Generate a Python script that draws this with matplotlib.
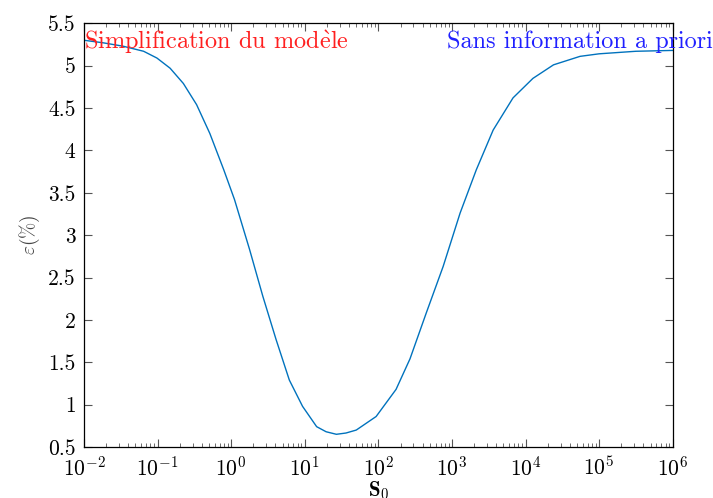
import numpy as np
import matplotlib
matplotlib.use("Agg")
import matplotlib.pyplot as plt
from matplotlib.ticker import LogLocator

# Values
s0 = [1.0e-2, 1.82e-2, 3.39e-2, 6.46e-2, 9.8e-2, 0.148, 0.224,
      0.339, 0.513, 0.794, 1.11, 1.78, 2.69, 4.07, 6.17,
      9.33, 14.5, 19.5, 26.9, 36.3, 50.1, 93.3, 174, 269, 447,
      759, 1290, 2140, 3630, 6760, 12600, 24000, 55000, 1.0e5,
      3.16e5, 1.0e6]
eps = [5.30, 5.27, 5.23, 5.17, 5.09, 4.97, 4.79,
       4.54, 4.20, 3.77, 3.42, 2.83, 2.28, 1.77, 1.29,
       0.98, 0.74, 0.68, 0.65, 0.665, 0.70, 0.86, 1.18, 1.54, 2.08,
       2.63, 3.26, 3.77, 4.24, 4.62, 4.85, 5.01, 5.11, 5.14,
       5.17, 5.18]

x_limits = (1e-2, 1e6)
y_limits = (0.5, 5.5)
y_ticks = [0.5, 1, 1.5, 2, 2.5, 3, 3.5, 4, 4.5, 5, 5.5]
y_ticklabels = ["0.5", "1", "1.5", "2", "2.5", "3", "3.5", "4", "4.5", "5", "5.5"]

plt.rcParams["font.family"] = "serif"
plt.rcParams["font.serif"] = ["cmr10"]
plt.rcParams["mathtext.fontset"] = "cm"
plt.rcParams["axes.formatter.use_mathtext"] = True
plt.rcParams["axes.unicode_minus"] = False

fig = plt.figure(figsize=(7.13, 4.98), dpi=100)
ax = fig.add_axes([0.1178, 0.1024, 0.8257, 0.8508])

ax.plot(s0, eps, color="#0072BD", linewidth=1.0)

ax.set_xscale("log")
ax.set_xlim(*x_limits)
ax.set_ylim(*y_limits)
ax.set_yticks(y_ticks)
ax.set_yticklabels(y_ticklabels)
ax.xaxis.set_major_locator(LogLocator(base=10, numticks=20))
ax.xaxis.set_minor_locator(LogLocator(base=10, subs=np.arange(2, 10), numticks=100))

ax.tick_params(which="both", direction="in", top=True, right=True,
               color="#555555", labelsize=15.5, pad=6)
ax.tick_params(which="major", length=6, width=0.8)
ax.tick_params(which="minor", length=3, width=0.6)
for sp in ax.spines.values():
    sp.set_linewidth(0.9)

ax.set_xlabel(r"$\mathbf{S}_0$", fontsize=15, labelpad=0)
ax.set_ylabel(r"$\varepsilon(\%)$", fontsize=14, color="#444444", labelpad=4)

ax.text(1e-2, 5.28, r"Simplification du mod$\mathrm{\grave{e}}$le", color="#ff2020",
        fontsize=17.5, ha="left", va="center", clip_on=False)
ax.text(870, 5.28, "Sans information a priori", color="#2020ff",
        fontsize=17.5, ha="left", va="center", clip_on=False)

fig.savefig("out.png", dpi=100)
